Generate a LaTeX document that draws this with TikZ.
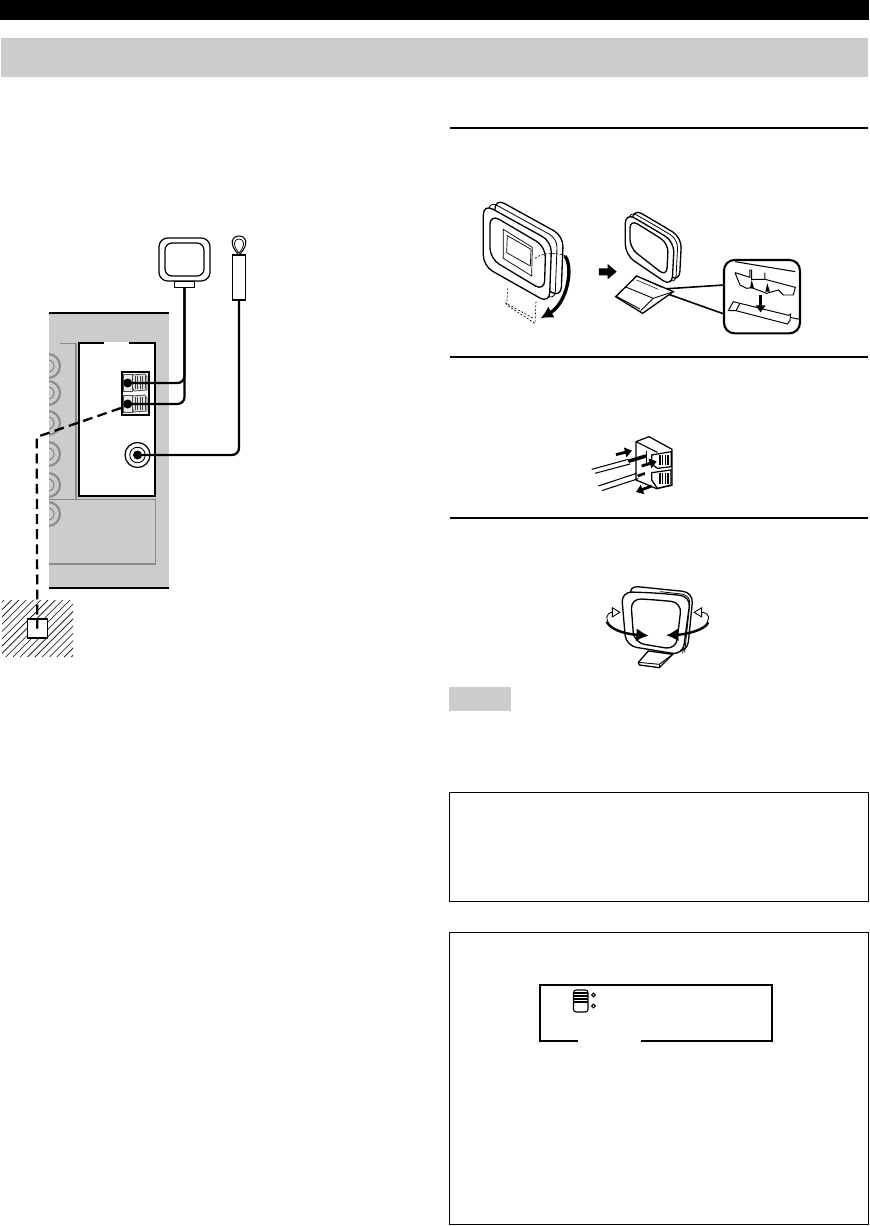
\documentclass[tikz,border=0pt]{standalone}
\usepackage{amsmath,amssymb}
\usetikzlibrary{positioning}
\usetikzlibrary{arrows.meta}
\usetikzlibrary{shapes.geometric}
\definecolor{panelgray}{HTML}{CCCCCC}
\definecolor{edgegray}{HTML}{8C8C8C}

\begin{document}
\begin{tikzpicture}[
      x=0.02cm,y=-0.02cm,
      rulebar/.style={line width=1.1pt,black},
      thinbox/.style={draw=black,line width=0.55pt,fill=white},
      wire/.style={line width=1.3pt,rounded corners=4pt},
      plug/.style={draw=black,fill=white,line width=0.6pt,inner sep=0pt},
      jackring/.style={draw=edgegray,line width=1.2pt},
      hatchline/.style={line width=0.35pt},
      dashlead/.style={line width=1.3pt,dash pattern=on 5.6pt off 3pt},
      loopline/.style={line width=0.75pt,rounded corners=6pt,fill=white},
      loopthin/.style={line width=0.45pt,rounded corners=5pt},
      dashfine/.style={line width=0.35pt,dash pattern=on 1.2pt off 0.9pt},
      bigarrow/.style={line width=1.4pt,-{Latex[length=7pt,width=7.5pt]}},
      blockarrow/.style={line width=1.6pt,-{Triangle[length=4pt,width=5.5pt]}},
      openarrow/.style={line width=0.5pt,-{Triangle[open,fill=white,length=5pt,width=6pt]}},
    ]
    \useasboundingbox (0,0) rectangle (869,1226);

    \fill[black] (0,0) rectangle (869,20);
    \fill[panelgray] (1,38) rectangle (868,77);

    \draw[rulebar] (450,128) -- (868,128);
    \draw[rulebar] (450,357) -- (868,357);
    \draw[rulebar] (450,518) -- (868,518);

    \fill[panelgray] (49,313) rectangle (169,588);
    \draw[line width=0.6pt] (49,313) -- (169,313);
    \draw[line width=1.3pt] (49,588) -- (169,588);

    \foreach \jy in {366,393,423,454,485,514} {
        \begin{scope}
            \clip (49,\jy-15) rectangle (70,\jy+15);
            \draw[jackring] (48,\jy) circle (12);
            \draw[jackring,line width=0.7pt] (48,\jy) circle (6);
        \end{scope}
    }
    \draw[edgegray,line width=0.7pt] (60,343.5) -- (76,343.5) -- (76,499.5);
    \draw[edgegray,line width=0.7pt] (49,499.5) -- (155.5,499.5) -- (155.5,564) -- (49,564);
    \filldraw[fill=white,draw=black,line width=0.7pt] (79,343) rectangle (155,496);
    \draw[white,line width=1pt] (104,343) -- (129,343);

    \node[draw=black,fill=white,line width=1.3pt,inner sep=0pt,minimum width=0.54cm,minimum height=0.85cm] (termblock) at (135.5,393.5) {};
    \foreach \ly/\lname in {383/upper,404/lower} {
        \draw[black!75,line width=0.45pt,fill=panelgray!60] (132,\ly-8) -- (145,\ly-9) -- (147,\ly-6) -- (147,\ly+7) -- (134,\ly+8) -- (132,\ly+3) -- cycle;
        \foreach \hx in {135,137.5,...,145} {
            \draw[black!75,line width=0.4pt] (\hx,\ly-7) -- (\hx,\ly+6);
        }
        \draw[black!70,line width=0.5pt,fill=panelgray!40] (123,\ly-9) rectangle (132,\ly+8);
        \node[circle,fill=black,inner sep=0pt,minimum size=0.18cm] (screw\lname) at (127.7,\ly) {};
    }

    \filldraw[fill=white,line width=0.7pt,rounded corners=5pt] (159,238) rectangle (210,281);
    \draw[line width=0.7pt,rounded corners=4pt] (165,243) rectangle (204,276);
    \node[plug,minimum width=0.4cm,minimum height=0.12cm] (amfoot) at (184.5,284.5) {};

    \draw[line width=0.6pt] (239,255) .. controls (228,244) and (232,236) .. (239,236) .. controls (246,236) and (250,244) .. (239,255);
    \draw[line width=0.4pt] (239,253) .. controls (232,245) and (234,239) .. (239,239) .. controls (244,239) and (246,245) .. (239,253);
    \node[plug,minimum width=0.25cm,minimum height=0.9cm] (fmbody) at (239,277.5) {};

    \node[circle,draw=black,fill=white,line width=0.7pt,inner sep=0pt,minimum size=0.5cm] (fmjack) at (137.5,455) {};
    \node[circle,draw=black,line width=0.5pt,inner sep=0pt,minimum size=0.31cm] (fmjackin) at (fmjack.center) {};
    \node[circle,fill=black,inner sep=0pt,minimum size=0.18cm] (fmjackpin) at (fmjack.center) {};

    \draw[wire] (amfoot.south) |- (screwupper.center);
    \draw[wire] (amfoot.south) |- (screwlower.center);
    \draw[wire] (fmbody.south) |- (fmjackpin.center);

    \begin{scope}
        \clip (2,600) rectangle (73,657);
        \foreach \k in {-60,-52.7,...,80} {
            \draw[hatchline] (\k,657) -- (\k+57,600);
        }
    \end{scope}
    \node[plug,minimum width=0.41cm,minimum height=0.38cm] (groundbox) at (37.3,628.5) {};
    \coordinate (dashstart) at (121,408);
    \coordinate (dashknee) at (36.7,437);
    \draw[dashlead] (dashstart) -- (dashknee) -- (groundbox.center);

    \begin{scope}[shift={(450,190)},scale=0.3333]
        \draw[loopline] (235,80) -- (340,138) -- (333,323) -- (135,211) -- (135,25) -- cycle;
        \draw[loopthin] (217,88) -- (322,146) -- (315,331) -- (117,219) -- (117,33) -- cycle;
        \draw[loopline] (200,97) -- (305,155) -- (298,340) -- (100,228) -- (100,42) -- cycle;
        \draw[loopline] (200,119) -- (287,170) -- (283,304) -- (120,206) -- (120,72) -- cycle;
        \draw[line width=0.4pt] (160,118) -- (247,172) -- (245,258) -- (160,205) -- cycle;
        \draw[line width=0.4pt] (172,137) -- (243,178) -- (241,228) -- (170,188) -- cycle;
        \draw[dashfine] (173,295) -- (170,345) -- (255,400) -- (258,335);
        \draw[dashfine] (165,338) -- (250,385);
        \draw[dashfine] (255,205) .. controls (270,190) and (320,185) .. (345,197);
        \draw[bigarrow,line width=1.9pt] (345,198) .. controls (372,235) and (350,340) .. (272,385);

        \fill (447,235) -- (473,235) -- (473,222) -- (500,245) -- (473,268) -- (473,256) -- (447,256) -- cycle;

        \draw[line width=0.9pt] (625,298) -- (822,285);
        \draw[line width=0.9pt] (625,302) -- (822,372);

        \draw[line width=0.75pt,fill=white] (497,320) -- (560,258) -- (670,305) -- (578,370) -- cycle;
        \draw[line width=0.5pt] (525,290) -- (610,325) -- (670,305);
        \draw[line width=0.5pt] (497,318) -- (570,357);
        \draw[line width=0.5pt] (610,325) -- (572,362);
        \draw[line width=0.3pt] (560,270) -- (625,298);
        \draw[line width=0.3pt] (575,265) -- (635,292);

        \draw[loopline] (622,98) -- (695,142) -- (688,277) -- (548,182) -- (548,55) -- cycle;
        \draw[loopthin] (611,104) -- (684,148) -- (677,284) -- (537,189) -- (537,62) -- cycle;
        \draw[loopline] (600,111) -- (673,155) -- (666,290) -- (526,195) -- (526,68) -- cycle;
        \draw[loopline,rounded corners=5pt] (600,125) -- (655,160) -- (650,260) -- (540,174) -- (540,88) -- cycle;

        \filldraw[fill=white,line width=1.2pt,rounded corners=6pt] (822,210) rectangle (1050,430);
        \draw[line width=0.6pt] (855,215) -- (1036,245);
        \draw[line width=0.55pt] (855,248) -- (870,285) -- (890,295) -- (905,293) -- (950,310) -- (985,300) -- (1000,315) -- (1030,315) -- (1036,292) -- (960,272) -- (945,268) -- (945,248);
        \draw[line width=0.55pt] (855,248) -- (900,262) -- (900,240) -- (905,240) -- (905,268) -- (945,268);
        \fill (905,270) -- (900,295) -- (912,295) -- cycle;
        \fill (952,280) -- (946,305) -- (960,305) -- cycle;
        \draw[blockarrow] (932,315) -- (932,367);
        \draw[line width=0.55pt] (835,362) -- (850,335) -- (870,340) -- (1016,376) -- (1022,372) -- (1020,392) -- (1012,402) -- (858,362) -- cycle;
        \draw[line width=0.55pt] (858,362) -- (870,340);
        \draw[line width=0.55pt] (1020,382) -- (1048,388);
    \end{scope}

    \begin{scope}[shift={(570,420)},scale=0.3333]
        \draw[line width=0.7pt,fill=white] (198,65) -- (237,50) -- (306,88) -- (306,196) -- (260,206) -- (198,180) -- cycle;
        \draw[line width=0.6pt] (198,65) -- (262,97);
        \draw[line width=0.6pt] (230,92) -- (230,130);
        \draw[line width=0.7pt] (245,105) -- (304,95) -- (304,140) -- (262,145) -- (245,132) -- cycle;
        \draw[line width=0.7pt,fill=white] (245,158) -- (303,150) -- (303,195) -- (262,205) -- (245,180) -- cycle;
        \foreach \hx in {270,278,...,298} {
            \draw[line width=0.6pt] (\hx,104) -- (\hx,136);
            \draw[line width=0.6pt] (\hx,160) -- (\hx,192);
        }
        \draw[line width=0.6pt] (65,148) -- (175,118);
        \draw[line width=0.6pt] (75,160) -- (180,132);
        \draw[line width=2pt] (175,124) -- (228,108);
        \draw[line width=0.6pt] (85,198) -- (200,160);
        \draw[line width=0.6pt] (95,212) -- (205,176);
        \draw[line width=1.5pt] (203,168) -- (225,160);
        \draw[blockarrow] (138,104) -- (186,92);
        \draw[blockarrow] (215,138) -- (260,124);
        \draw[blockarrow] (245,198) -- (198,216);
    \end{scope}

    \begin{scope}[shift={(580,575)},scale=0.3333]
        \draw[line width=0.75pt,fill=white] (175,262) -- (205,228) -- (278,238) -- (238,278) -- (178,270) -- cycle;
        \draw[line width=0.5pt] (175,262) -- (238,268) -- (278,238);
        \draw[line width=0.5pt] (238,268) -- (238,278);
        \draw[loopline] (240,42) -- (340,52) -- (322,232) -- (200,218) -- (143,32) -- cycle;
        \draw[loopthin] (240,50) -- (332,60) -- (314,232);
        \draw[loopthin] (240,56) -- (326,68) -- (308,236);
        \draw[loopline] (230,54) -- (332,64) -- (308,240) -- (138,212) -- (124,50) -- cycle;
        \draw[loopline] (230,75) -- (305,82) -- (288,224) -- (162,203) -- (152,70) -- cycle;
        \draw[bigarrow] (80,140) .. controls (95,170) and (150,178) .. (206,182);
        \draw[bigarrow] (385,142) .. controls (375,165) and (320,178) .. (258,181);
        \draw[openarrow] (84,142) .. controls (72,115) and (95,112) .. (122,112);
        \draw[openarrow] (382,140) .. controls (395,115) and (370,112) .. (340,112);
    \end{scope}

    \fill[panelgray] (449,687) rectangle (511,711);

    \draw[thinbox] (449,792) rectangle (868,901);
    \draw[thinbox] (449,932) rectangle (868,1224);

    \draw[line width=1.1pt] (578,1041) -- (540,1041) -- (540,985) -- (772,985) -- (772,1041) -- (641,1041);
    \draw[line width=0.6pt,rounded corners=1.5pt] (573.5,990) rectangle (588,1012);
    \foreach \iy in {993,996,999,1002} {
        \draw[line width=0.6pt] (574,\iy) -- (587.5,\iy);
    }
    \foreach \dy in {995,1006} {
        \node[diamond,draw=black,line width=0.6pt,inner sep=0pt,minimum size=0.08cm] (mark\dy) at (593.5,\dy) {};
    }
\end{tikzpicture}
\end{document}
